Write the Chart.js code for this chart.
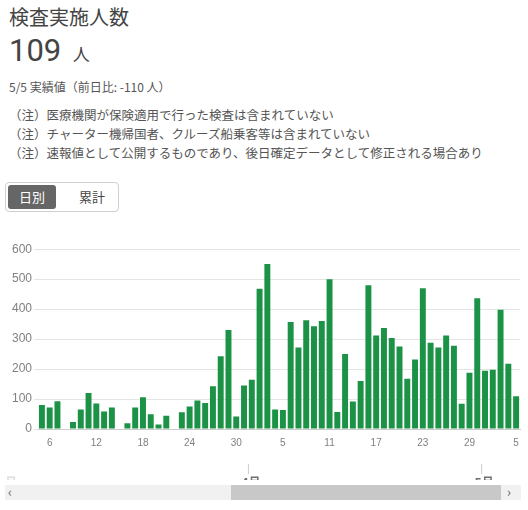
<!DOCTYPE html>
<html><head><meta charset="utf-8">
<script src="https://cdn.jsdelivr.net/npm/chart.js@4"></script>
<style>
body{margin:0;width:528px;height:510px;font-family:"Noto Sans CJK JP",Roboto,sans-serif;color:#333;position:relative;overflow:hidden;background:#fff}
.a{position:absolute;white-space:nowrap}
</style></head><body>
<div class="a" style="left:9px;top:2px;font-size:20px;color:#444">検査実施人数</div>
<div class="a" style="left:9px;top:32px;font-size:31px;color:#444;font-family:Roboto,sans-serif">109 <span style="font-size:17px;font-family:'Noto Sans CJK JP'">&nbsp;人</span></div>
<div class="a" style="left:9px;top:78px;font-size:12px;color:#555">5/5 実績値（前日比: -110 人）</div>
<div class="a" style="left:9px;top:105px;font-size:12.5px;color:#555;line-height:19px">（注）医療機関が保険適用で行った検査は含まれていない<br>（注）チャーター機帰国者、クルーズ船乗客等は含まれていない<br>（注）速報値として公開するものであり、後日確定データとして修正される場合あり</div>
<div class="a" style="left:5px;top:182px;width:112px;height:28px;border:1px solid #d0d0d0;border-radius:4px"></div>
<div class="a" style="left:8px;top:185px;width:48px;height:24px;background:#666;border-radius:3px;color:#fff;font-size:13px;text-align:center;line-height:24px">日別</div>
<div class="a" style="left:70px;top:185px;width:44px;height:24px;color:#444;font-size:13px;text-align:center;line-height:24px">累計</div>
<div class="a" style="left:0;top:240px;width:528px;height:240px"><canvas id="c"></canvas></div>
<div class="a" style="left:5px;top:485px;width:516px;height:15px;background:#f1f1f1"></div>
<div class="a" style="left:231px;top:485px;width:270px;height:15px;background:#c8c8c8"></div>
<div class="a" style="left:8px;top:482px;font-size:13px;color:#666">&lsaquo;</div>
<div class="a" style="left:507px;top:482px;font-size:13px;color:#666">&rsaquo;</div>
<script>
const dates = [];
const months = [3,3,3,3,3,3,3,3,3,3,3,3,3,3,3,3,3,3,3,3,3,3,3,3,3,3,3,4,4,4,4,4,4,4,4,4,4,4,4,4,4,4,4,4,4,4,4,4,4,4,4,4,4,4,4,4,4,5,5,5,5,5];
const days = [5,6,7,8,9,10,11,12,13,14,15,16,17,18,19,20,21,22,23,24,25,26,27,28,29,30,31,1,2,3,4,5,6,7,8,9,10,11,12,13,14,15,16,17,18,19,20,21,22,23,24,25,26,27,28,29,30,1,2,3,4,5];
const tests = [80,72,93,0,23,65,120,85,58,72,0,19,72,106,49,15,44,0,56,75,95,87,143,243,330,42,145,164,468,551,65,63,357,272,363,343,360,500,57,250,92,160,480,312,337,304,275,168,232,470,288,272,312,278,84,188,436,194,198,398,218,109];
const yTicks = [0,100,200,300,400,500,600];
const monthLabels = ['4月','5月'];
for (let i=0;i<days.length;i++) dates.push(months[i]+'/'+days[i]);
const monthPlugin = {id:'m',afterDraw(ch){
  const x=ch.scales.x, ctx=ch.ctx; ctx.save();
  ctx.font='bold 12px "Noto Sans CJK JP"'; ctx.fillStyle='#707070'; ctx.textAlign='center';
  ctx.strokeStyle='#ccc'; ctx.lineWidth=1;
  [4,5].forEach((m,k)=>{
    const i=months.indexOf(m); const px=(x.getPixelForValue(i)+x.getPixelForValue(i-1))/2;
    ctx.beginPath(); ctx.moveTo(px+0.5,x.bottom+7); ctx.lineTo(px+0.5,x.bottom+17); ctx.stroke();
    ctx.fillText(monthLabels[k],px+3,x.bottom+30);
  });
  ctx.fillStyle='#ddd'; ctx.textAlign='left'; ctx.fillText('月',5,x.bottom+30);
  ctx.restore();}};
new Chart(document.getElementById('c'),{type:'bar',
 data:{labels:dates,datasets:[{data:tests,backgroundColor:'#1b9246',categoryPercentage:0.85,barPercentage:0.9}]},
 options:{responsive:true,maintainAspectRatio:false,animation:false,
  layout:{padding:{top:8,right:8,bottom:23,left:10}},
  plugins:{legend:{display:false},tooltip:{enabled:false}},
  scales:{
   x:{grid:{display:false,drawTicks:false},border:{color:'#ccc'},
      ticks:{autoSkip:false,maxRotation:0,color:'#808080',font:{size:10},padding:8,
        callback:(v,i)=> (i%6===1)? String(days[i]) : ''}},
   y:{min:0,max:600,afterBuildTicks:ax=>{ax.ticks=yTicks.map(v=>({value:v}));},
      grid:{color:'#e4e4e4',drawTicks:true,tickLength:4},border:{display:false},
      ticks:{color:'#808080',font:{size:12},padding:2}}}},
 plugins:[monthPlugin]});
</script>
</body></html>
